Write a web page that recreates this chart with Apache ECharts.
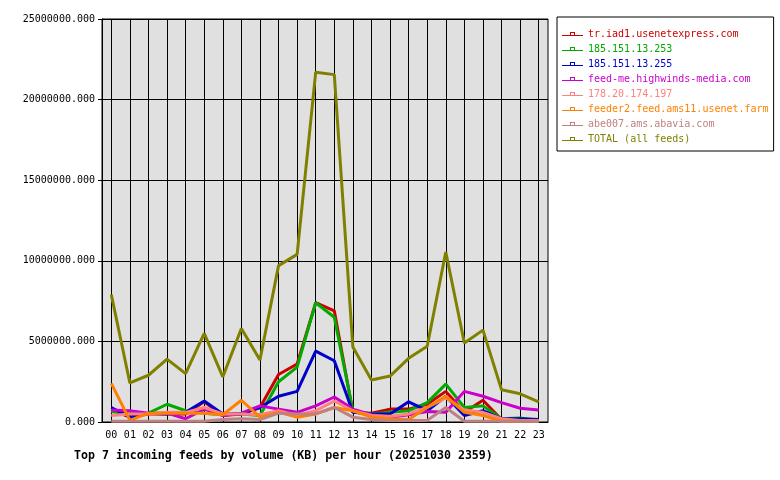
<!DOCTYPE html>
<html>
<head>
<meta charset="utf-8">
<script src="https://cdn.jsdelivr.net/npm/echarts@6/dist/echarts.min.js"></script>
<style>
  html, body { margin: 0; padding: 0; background: #fff; }
  #chart { width: 780px; height: 480px; }
</style>
</head>
<body>
<div id="chart"></div>
<script>
// hours on the x axis
var hours = ['00','01','02','03','04','05','06','07','08','09','10','11',
             '12','13','14','15','16','17','18','19','20','21','22','23'];

// feed names, as in the legend
var feedNames = [
    'tr.iad1.usenetexpress.com',
    '185.151.13.253',
    '185.151.13.255',
    'feed-me.highwinds-media.com',
    '178.20.174.197',
    'feeder2.feed.ams11.usenet.farm',
    'abe007.ams.abavia.com',
    'TOTAL (all feeds)'
];

// KB per hour
var usenetexpress = [750000, 300000, 500000, 500000, 500000, 1250000, 400000, 500000, 900000, 2950000, 3600000, 7400000,
                     6900000, 600000, 550000, 800000, 800000, 1100000, 1900000, 600000, 1350000, 150000, 150000, 100000];
var ip253 = [650000, 500000, 550000, 1100000, 700000, 550000, 450000, 500000, 400000, 2500000, 3400000, 7400000,
             6500000, 700000, 500000, 600000, 700000, 1200000, 2350000, 900000, 1000000, 200000, 250000, 100000];
var ip255 = [900000, 300000, 550000, 500000, 600000, 1300000, 500000, 500000, 900000, 1600000, 1900000, 4400000,
             3800000, 600000, 500000, 500000, 1250000, 700000, 1600000, 400000, 700000, 200000, 200000, 150000];
var highwinds = [750000, 700000, 550000, 550000, 200000, 800000, 400000, 550000, 1000000, 800000, 600000, 1000000,
                 1550000, 800000, 450000, 300000, 450000, 650000, 600000, 1900000, 1600000, 1200000, 850000, 750000];
var ip197 = [400000, 500000, 500000, 600000, 600000, 900000, 500000, 500000, 450000, 700000, 400000, 700000,
             1300000, 700000, 400000, 350000, 500000, 900000, 1500000, 750000, 600000, 200000, 100000, 100000];
var amsFarm = [2400000, 100000, 550000, 550000, 550000, 550000, 450000, 1350000, 300000, 600000, 300000, 500000,
               900000, 700000, 300000, 200000, 150000, 900000, 1600000, 600000, 400000, 50000, 50000, 50000];
var abavia = [50000, 50000, 50000, 50000, 50000, 50000, 150000, 200000, 150000, 550000, 500000, 500000,
              900000, 300000, 150000, 100000, 100000, 100000, 900000, 50000, 50000, 50000, 50000, 50000];
var total = [7900000, 2420000, 2900000, 3900000, 3000000, 5500000, 2800000, 5800000, 3850000, 9700000, 10400000, 21700000,
             21550000, 4650000, 2600000, 2850000, 3950000, 4700000, 10550000, 4900000, 5700000, 2000000, 1750000, 1250000];

var feedColors = ['#cc0000', '#00aa00', '#0000cc', '#cc00cc', '#ff8080', '#ff8000', '#c08080', '#808000'];
var feedData = [usenetexpress, ip253, ip255, highwinds, ip197, amsFarm, abavia, total];

var monoFont = '"DejaVu Sans Mono", "Liberation Mono", monospace';
// legend sample: line with a small open square on it
var legendIcon = 'path://M0,4h8v1h-8z M13,4h8v1h-8z M8,1h5v4h-5z M9,2v2h3v-2z';

var series = feedNames.map(function (name, i) {
    return {
        name: name,
        type: 'line',
        data: feedData[i],
        showSymbol: false,
        animation: false,
        itemStyle: { color: feedColors[i] },
        lineStyle: { color: feedColors[i], width: 3 }
    };
});

var option = {
    animation: false,
    backgroundColor: '#ffffff',
    title: {
        text: 'Top 7 incoming feeds by volume (KB) per hour (20251030 2359)',
        left: 69,
        top: 445,
        textStyle: { fontFamily: monoFont, fontSize: 11.6, fontWeight: 'bold', color: '#000' }
    },
    legend: {
        orient: 'vertical',
        left: 557,
        top: 17,
        width: 216,
        padding: [12, 5, 7, 5],
        itemGap: 5,
        itemWidth: 21,
        itemHeight: 5,
        icon: legendIcon,
        backgroundColor: '#ffffff',
        borderColor: '#000000',
        borderWidth: 1,
        textStyle: { fontFamily: monoFont, fontSize: 10, lineHeight: 10 },
        data: feedNames.map(function (name, i) {
            return { name: name, textStyle: { color: feedColors[i] } };
        })
    },
    grid: {
        left: 102,
        right: 232,
        top: 19,
        bottom: 58,
        show: true,
        backgroundColor: '#e0e0e0',
        borderColor: '#000',
        borderWidth: 1
    },
    xAxis: {
        type: 'category',
        data: hours,
        boundaryGap: true,
        axisLine: { lineStyle: { color: '#000', width: 1 } },
        axisTick: { alignWithLabel: true, length: 5, lineStyle: { color: '#000' } },
        axisLabel: { color: '#000', fontFamily: monoFont, fontSize: 10, margin: 8, interval: 0 },
        splitLine: { show: true, alignWithLabel: true, lineStyle: { color: '#000', width: 1 } }
    },
    yAxis: {
        type: 'value',
        min: 0,
        max: 25000000,
        interval: 5000000,
        axisLine: { show: true, lineStyle: { color: '#000', width: 1 } },
        axisTick: { show: true, length: 4, lineStyle: { color: '#000' } },
        axisLabel: {
            color: '#000', fontFamily: monoFont, fontSize: 10, margin: 7,
            formatter: function (v) { return v.toFixed(3); }
        },
        splitLine: { show: true, lineStyle: { color: '#000', width: 1 } }
    },
    series: series
};

var myChart = echarts.init(document.getElementById('chart'), null, { renderer: 'canvas' });
myChart.setOption(option);
</script>
</body>
</html>
